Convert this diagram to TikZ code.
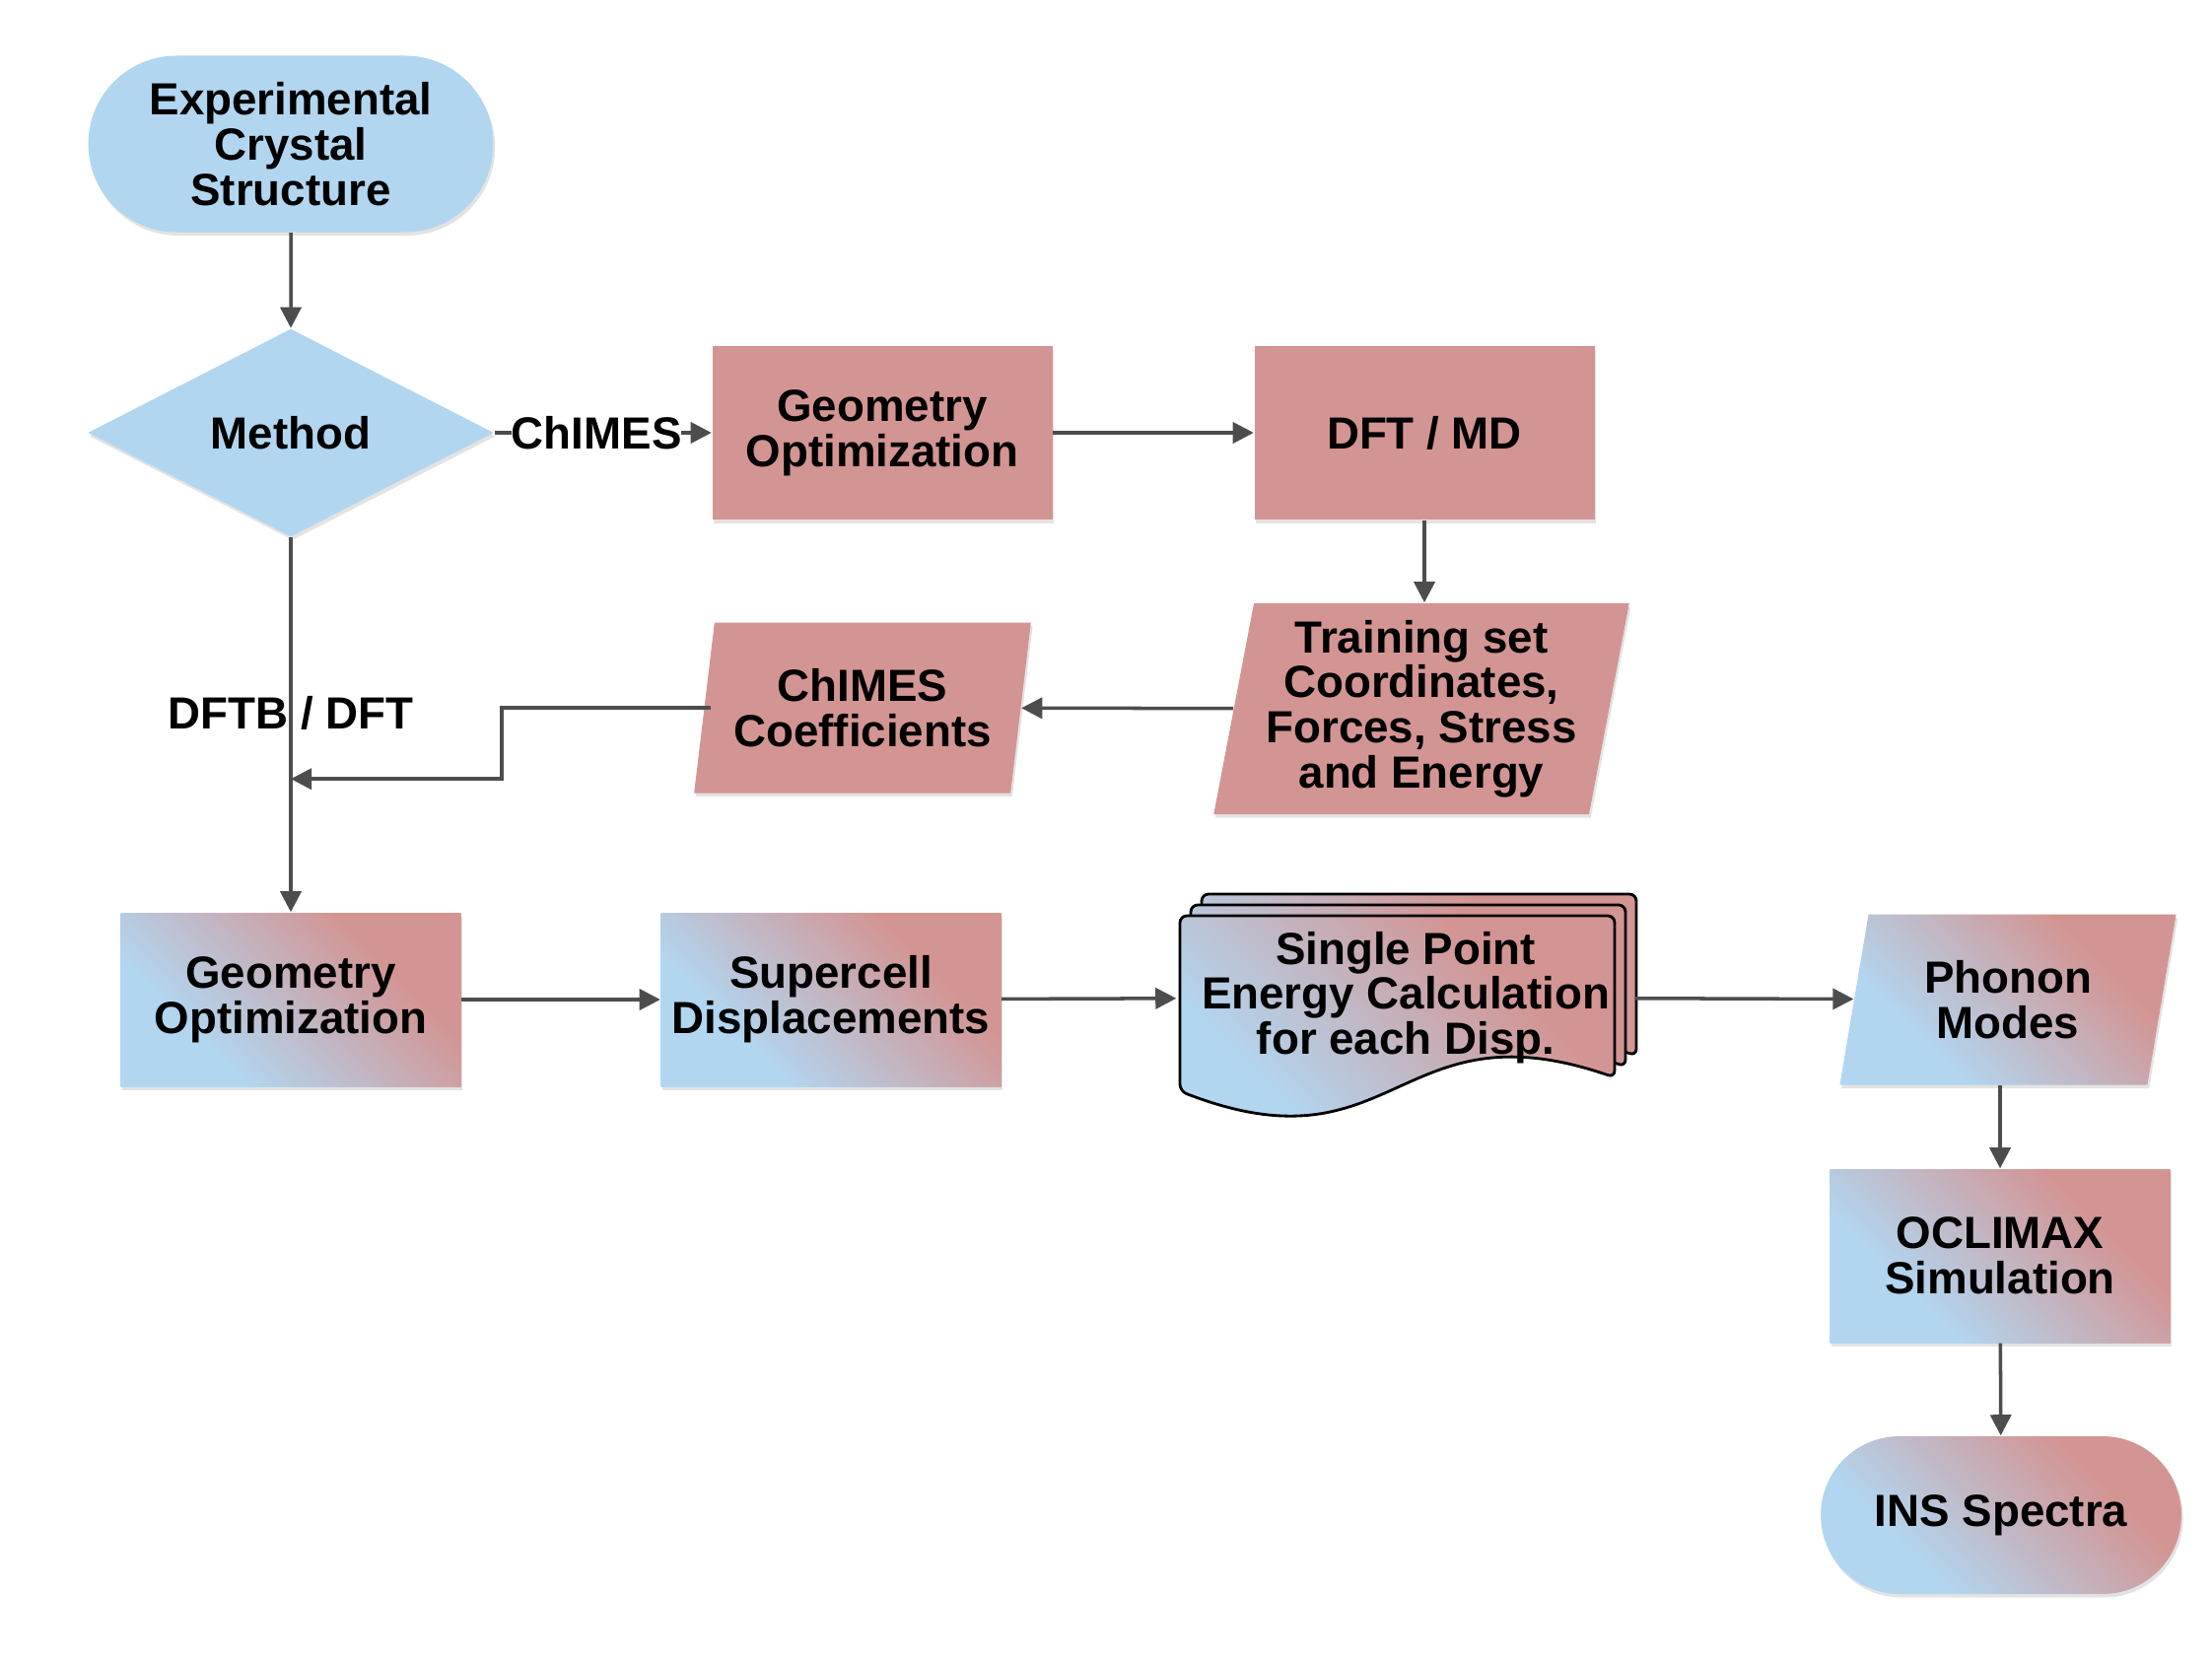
\documentclass[tikz,border=0pt]{standalone}
\usepackage{fontspec}
\setmainfont{Liberation Sans}
\usepackage{xcolor}
\usepackage{tikz}
\usetikzlibrary{shapes,arrows.meta,positioning,calc,shadows}

\definecolor{skyblue}{RGB}{178,214,240}
\definecolor{rosepink}{RGB}{211,149,148}
\definecolor{arrowgray}{RGB}{77,77,77}
\pgfdeclarehorizontalshading{bluerose}{100bp}{color(0bp)=(skyblue); color(32bp)=(skyblue); color(68bp)=(rosepink); color(100bp)=(rosepink)}

\begin{document}
\begin{tikzpicture}[
    txt/.style={font=\fontsize{13}{13}\selectfont\bfseries, align=center, inner sep=2pt},
    lift/.style={drop shadow={shadow xshift=0.5pt, shadow yshift=-1pt, opacity=0.22}},
    box/.style={txt, lift, rectangle, minimum width=3.45cm, minimum height=1.76cm},
    slant/.style={txt, lift, trapezium, trapezium left angle=78.5, trapezium right angle=101.5, trapezium stretches=true, minimum width=3.42cm, minimum height=1.73cm},
    term/.style={txt, lift, rounded rectangle},
    bluefill/.style={fill=skyblue},
    pinkfill/.style={fill=rosepink},
    blend/.style={shade, shading=bluerose, shading angle=45},
    sheet/.style={draw=black, line width=0.8pt, rounded corners=2pt, blend},
    flow/.style={draw=arrowgray, line width=1pt, -{Triangle[length=6pt,width=6pt]}},
    lbl/.style={font=\fontsize{13}{13}\selectfont\bfseries, inner sep=0pt}
]
    \path[use as bounding box] (0,0) rectangle (22.44,-16.83);

    % Upper branch
    \node [term, bluefill, minimum width=4.25cm, minimum height=1.79cm] (exp) at (2.95,-1.46) {Experimental\\Crystal\\Structure};
    \node [txt, lift, diamond, aspect=2, bluefill, inner sep=0pt, minimum width=4.12cm, minimum height=2.11cm] (method) at (2.95,-4.39) {Method};
    \node [box, pinkfill] (geo1) at (8.95,-4.39) {Geometry\\Optimization};
    \node [box, pinkfill] (dftmd) at (14.45,-4.39) {DFT / MD};
    \node [slant, pinkfill, minimum width=4.22cm, minimum height=2.14cm] (train) at (14.42,-7.19) {Training set\\Coordinates,\\Forces, Stress\\and Energy};
    \node [slant, pinkfill] (coef) at (8.75,-7.18) {ChIMES\\Coefficients};

    % Lower branch
    \node [box, blend] (geo2) at (2.95,-10.14) {Geometry\\Optimization};
    \node [box, blend] (supercell) at (8.43,-10.14) {Supercell\\Displacements};

    % Stack of documents
    \foreach \d in {2,1,0}
        \draw [sheet, shift={({11.97+0.11*\d},{-9.29+0.11*\d})}] (0,0) -- (0,-1.78) .. controls (2.2,-2.63) and (2.2,-0.88) .. (4.41,-1.64) -- (4.41,0) -- cycle;
    \node [txt, minimum width=4.64cm, minimum height=2.2cm] (single) at (14.26,-10.12) {Single Point\\Energy Calculation\\for each Disp.};

    \node [slant, blend] (phonon) at (20.37,-10.14) {Phonon\\Modes};
    \node [box, blend] (oclimax) at (20.29,-12.74) {OCLIMAX\\Simulation};
    \node [term, blend, minimum width=3.8cm, minimum height=1.6cm] (ins) at (20.30,-15.37) {INS Spectra};

    % Connectors
    \coordinate (join) at ([yshift=-2.45cm]method.south);
    \draw [flow] (exp) -- (method);
    \draw [flow] (method) -- node [lbl, fill=white, pos=0.47] {ChIMES} (geo1);
    \draw [flow] (geo1) -- (dftmd);
    \draw [flow] (dftmd.south) -- (dftmd.south |- train.north);
    \draw [flow] (train) -- (coef);
    \draw [flow] ([xshift=2pt]coef.west) -- ++(-2.12,0) |- (join);
    \draw [flow] (method) -- node [lbl, pos=0.47] {DFTB / DFT} (geo2);
    \draw [flow] (geo2) -- (supercell);
    \draw [flow] (supercell) -- (single);
    \draw [flow] (single) -- (phonon);
    \draw [flow] (oclimax.north |- phonon.south) -- (oclimax.north);
    \draw [flow] (oclimax) -- (ins);
\end{tikzpicture}
\end{document}
